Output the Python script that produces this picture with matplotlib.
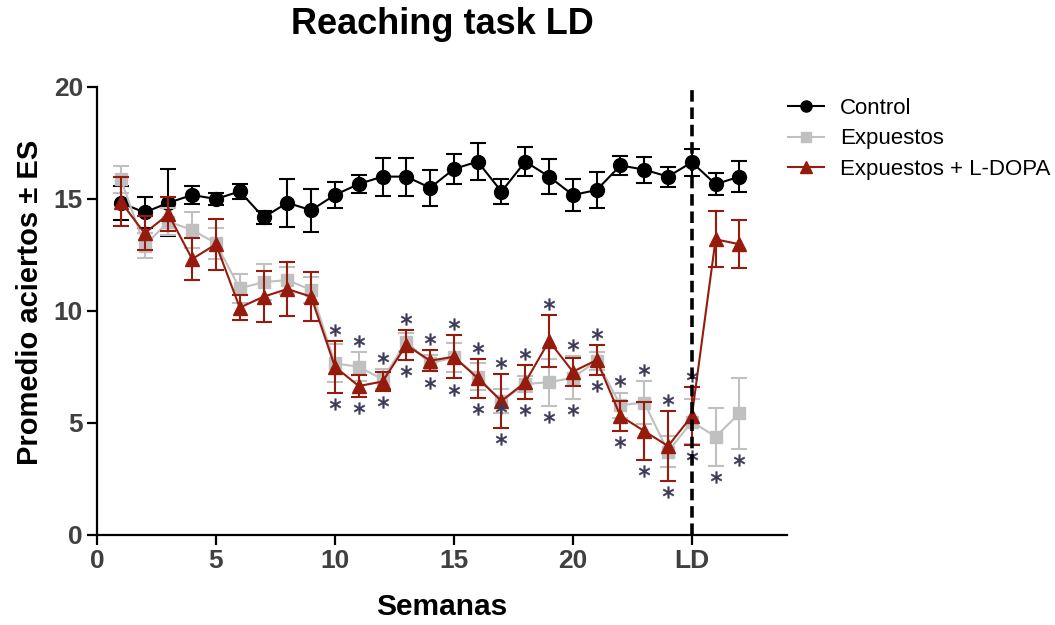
import numpy as np
import matplotlib
matplotlib.use("Agg")
import matplotlib.pyplot as plt
from matplotlib.lines import Line2D

plt.rcParams["font.family"] = ["Liberation Sans", "DejaVu Sans"]

# Weeks of training; week 25 is the L-DOPA session (LD)
weeks = np.arange(1, 28)

control_mean = [14.83, 14.40, 14.83, 15.18, 15.00, 15.34, 14.18, 14.83, 14.50, 15.18,
                15.67, 16.00, 16.00, 15.50, 16.34, 16.67, 15.33, 16.67, 16.00, 15.18,
                15.40, 16.50, 16.31, 16.00, 16.64, 15.66, 16.00]
control_se = [0.75, 0.70, 1.50, 0.40, 0.25, 0.33, 0.30, 1.07, 0.96, 0.60,
              0.42, 0.85, 0.85, 0.80, 0.65, 0.84, 0.55, 0.65, 0.77, 0.70,
              0.80, 0.43, 0.58, 0.45, 0.60, 0.50, 0.69]

exp_mean = [15.88, 12.92, 13.99, 13.62, 13.02, 11.01, 11.29, 11.38, 10.94, 7.66,
            7.51, 6.95, 8.63, 7.66, 7.93, 7.07, 5.98, 6.74, 6.82, 7.02,
            7.77, 5.80, 5.91, 3.72, 5.06, 4.39, 5.43]
exp_se = [0.60, 0.56, 0.60, 0.80, 0.68, 0.64, 0.80, 0.60, 0.60, 0.85,
          0.65, 0.45, 0.40, 0.36, 0.65, 0.60, 0.55, 0.35, 1.04, 0.95,
          0.40, 0.56, 0.95, 0.68, 1.00, 1.30, 1.60]

ldopa_mean = [14.88, 13.47, 14.32, 12.32, 12.98, 10.15, 10.64, 10.98, 10.64, 7.51,
              6.65, 6.85, 8.48, 7.78, 7.96, 7.00, 5.98, 6.82, 8.66, 7.29,
              7.81, 5.31, 4.64, 3.97, 5.31, 13.20, 12.98]
ldopa_se = [1.10, 0.75, 0.75, 0.95, 1.13, 0.57, 1.15, 1.20, 1.10, 1.16,
            0.50, 0.42, 0.67, 0.48, 0.97, 0.87, 1.19, 0.76, 1.14, 0.62,
            0.66, 0.67, 1.30, 1.56, 1.30, 1.25, 1.08]

# Weeks flagged as significantly different from control
sig_above = list(range(10, 26))
sig_below = list(range(10, 28))
sig_extra = [17]

x_ticks = [0, 5, 10, 15, 20, 25]
x_ticklabels = ["0", "5", "10", "15", "20", "LD"]
y_ticks = [0, 5, 10, 15, 20]
ld_week = 25

BLACK = "#000000"
GRAY = "#c0c0c0"
RED = "#961b0c"
STAR = "#3b3b58"
TICKC = "#404040"

fig = plt.figure(figsize=(10.55, 6.25), dpi=100)
ax = fig.add_axes([97 / 1055, 1 - 535 / 625, (787 - 97) / 1055, (535 - 87) / 625])

eb_kw = dict(capsize=6, elinewidth=1.5, capthick=1.5, linewidth=1.5)
ax.errorbar(weeks, control_mean, yerr=control_se, color=BLACK, marker="o",
            markersize=10, zorder=3, **eb_kw)
ax.errorbar(weeks, exp_mean, yerr=exp_se, color=GRAY, marker="s",
            markersize=9, zorder=4, **eb_kw)
ax.errorbar(weeks, ldopa_mean, yerr=ldopa_se, color=RED, marker="^",
            markersize=10, zorder=5, **eb_kw)

# Significance asterisks, placed just beyond the error bars of the exposed groups
em, es = np.array(exp_mean), np.array(exp_se)
lm, ls = np.array(ldopa_mean), np.array(ldopa_se)
upper = np.maximum(em + es, lm + ls)
lower = np.minimum(em - es, lm - ls)
star_off = 0.5
ia = np.array(sig_above) - 1
ib = np.array(sig_below) - 1
ie = np.array(sig_extra) - 1
star_kw = dict(linestyle="none", marker=r"$\ast$", markersize=8.5, color=STAR,
               markeredgewidth=0.3, zorder=6)
ax.plot(weeks[ia], upper[ia] + star_off, **star_kw)
ax.plot(weeks[ib], lower[ib] - star_off, **star_kw)
ax.plot(weeks[ie], em[ie] - 0.3, **star_kw)

ax.axvline(ld_week, color=BLACK, linestyle=(0, (3.2, 1.6)), linewidth=2.6, zorder=7)

ax.set_xlim(0, 29)
ax.set_ylim(0, 20)
ax.set_xticks(x_ticks)
ax.set_xticklabels(x_ticklabels)
ax.set_yticks(y_ticks)
for s in ["top", "right"]:
    ax.spines[s].set_visible(False)
for s in ["left", "bottom"]:
    ax.spines[s].set_linewidth(1.6)
ax.tick_params(axis="both", direction="out", length=7, width=1.6, colors=BLACK,
               labelcolor=TICKC, labelsize=19, pad=3)
for lab in ax.get_xticklabels() + ax.get_yticklabels():
    lab.set_fontweight("bold")

fig.text(442 / 1055, 1 - 24 / 625, "Reaching task LD", ha="center", va="center",
         fontsize=26, fontweight="bold")
fig.text(442 / 1055, 1 - 607 / 625, "Semanas", ha="center", va="center",
         fontsize=21.5, fontweight="bold")
fig.text(30 / 1055, 1 - 302 / 625, "Promedio aciertos ± ES", ha="center", va="center",
         rotation=90, fontsize=21, fontweight="bold")

handles = [
    Line2D([], [], color=BLACK, marker="o", markersize=8, linewidth=1.5),
    Line2D([], [], color=GRAY, marker="s", markersize=7, linewidth=1.5),
    Line2D([], [], color=RED, marker="^", markersize=8, linewidth=1.5),
]
fig.legend(handles, ["Control", "Expuestos", "Expuestos + L-DOPA"],
           loc="upper left", bbox_to_anchor=(788 / 1055, 1 - 98 / 625),
           frameon=False, fontsize=16, handlelength=1.6, handletextpad=0.75,
           labelspacing=0.42, borderaxespad=0, borderpad=0)

fig.savefig("out.png", dpi=100)
